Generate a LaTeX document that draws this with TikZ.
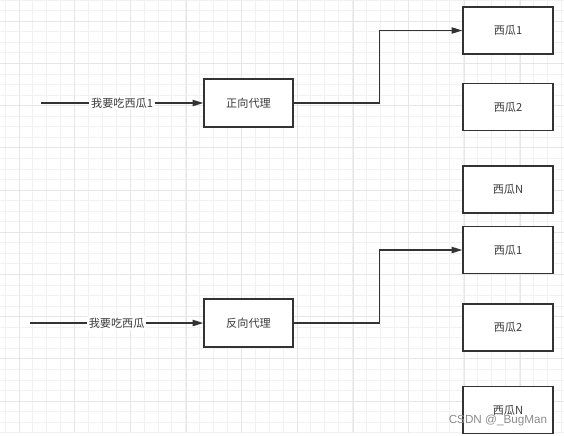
\documentclass[tikz,border=0pt]{standalone}
\usepackage{fontspec}
\setmainfont{Noto Sans CJK SC}
\newfontfamily\wmfont{Liberation Sans}
\usepackage{xcolor}
\definecolor{gridminor}{HTML}{F1F1F1}
\definecolor{gridmajor}{HTML}{E6E6E6}
\definecolor{proxyline}{HTML}{333333}
\definecolor{proxytext}{HTML}{3A3A3A}
\definecolor{wmgray}{HTML}{8C8C8C}
\usepackage{tikz}
\usetikzlibrary{arrows.meta,positioning}

\begin{document}
\begin{tikzpicture}[x=0.03cm,y=-0.03cm,
  proxybox/.style={draw=proxyline,line width=1.3pt,fill=white,text=proxytext,
    minimum width=2.67cm,minimum height=1.44cm,inner sep=0pt,
    font=\fontsize{9.5}{11}\selectfont},
  melon/.style={proxybox,minimum width=2.7cm,minimum height=1.41cm},
  link/.style={draw=proxyline,line width=1.1pt,-{Triangle[length=3.2mm,width=1.9mm]}},
  lbl/.style={fill=white,text=proxytext,inner sep=1.5pt,
    font=\fontsize{9.5}{11}\selectfont}]
\useasboundingbox (0,0) rectangle (564,435);
% grid
\fill[white] (0,0) rectangle (564,435);
\foreach \i in {0,...,40}
  \draw[gridminor,line width=0.8pt] (5.1+13.9*\i,0) -- (5.1+13.9*\i,433);
\foreach \j in {0,...,41}
  \draw[gridminor,line width=0.8pt] (0,0.2+10.55*\j) -- (564,0.2+10.55*\j);
\foreach \k in {0,...,9} {
  \draw[gridmajor,line width=0.8pt] (19+55.7*\k,0) -- (19+55.7*\k,433);
  \draw[gridmajor,line width=0.8pt] (0,21.3+42.2*\k) -- (564,21.3+42.2*\k);
}

% forward proxy
\node[proxybox] (fwd) at (248.5,103) {正向代理};
\node[melon] (fa1) at (508,30.5) {西瓜1};
\node[melon,below=0.84cm of fa1] (fa2) {西瓜2};
\node[melon,below=1.02cm of fa2] (faN) {西瓜N};
\coordinate (fin) at (41,103);
\draw[link] (fin) -- node[lbl]{我要吃西瓜1} (fwd);
\draw[link] (fwd.east) -- ++(86,0) |- (fa1.west);

% reverse proxy
\node[proxybox] (rev) at (248.5,323) {反向代理};
\node[melon] (ra1) at (508,250) {西瓜1};
\node[melon,below=0.87cm of ra1] (ra2) {西瓜2};
\node[melon,below=1.02cm of ra2] (raN) {西瓜N};
\coordinate (rin) at (30,323);
\draw[link] (rin) -- node[lbl]{我要吃西瓜} (rev);
\draw[link] (rev.east) -- ++(86,0) |- (ra1.west);

% watermark
\node[text=wmgray,font=\wmfont\fontsize{10}{12}\selectfont,inner sep=0pt] (wm) at (498,420) {CSDN @\_BugMan};
\end{tikzpicture}
\end{document}
